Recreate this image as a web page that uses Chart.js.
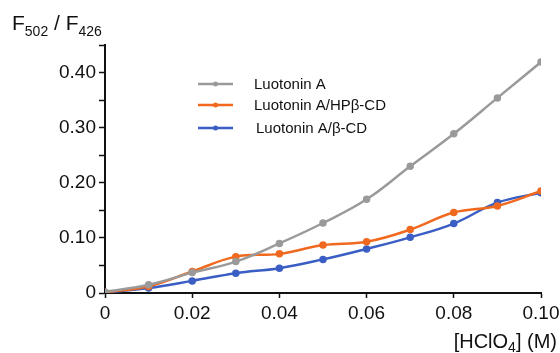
<!DOCTYPE html>
<html>
<head>
<meta charset="utf-8">
<script src="https://cdn.jsdelivr.net/npm/chart.js@4/dist/chart.umd.min.js"></script>
<style>
  html, body { margin: 0; padding: 0; background: #fff; }
  #wrap { width: 560px; height: 353px; position: relative; }
</style>
</head>
<body>
<div id="wrap"><canvas id="c"></canvas></div>
<script>
// HClO4 concentration (M)
const concentrations = [0, 0.01, 0.02, 0.03, 0.04, 0.05, 0.06, 0.07, 0.08, 0.09, 0.10];
const luotoninA = [0.002, 0.015, 0.037, 0.057, 0.090, 0.127, 0.170, 0.230, 0.289, 0.354, 0.419];
const luotoninHP = [0.001, 0.012, 0.039, 0.066, 0.071, 0.087, 0.093, 0.115, 0.146, 0.158, 0.185];
const luotoninB = [0.001, 0.009, 0.022, 0.036, 0.045, 0.061, 0.080, 0.101, 0.126, 0.164, 0.182];
const seriesNames = ["Luotonin A", "Luotonin A/HPβ-CD", "Luotonin A/β-CD"];
const yTickLabels = ["0", "0.10", "0.20", "0.30", "0.40"];
const xTickLabels = ["0", "0.02", "0.04", "0.06", "0.08", "0.10"];

const FONT = "'Liberation Sans', Arial, sans-serif";

function toPoints(vals) {
    return vals.map((v, i) => ({ x: concentrations[i], y: v }));
}

function makeSet(label, vals, color) {
    return {
        label: label,
        data: toPoints(vals),
        borderColor: color,
        backgroundColor: color,
        borderWidth: 2.5,
        pointRadius: 2.5,
        pointHoverRadius: 2.5,
        tension: 0.4,
        fill: false
    };
}

// draws axis titles (with subscripts) and the inset legend
const decorations = {
    id: 'decorations',
    afterDraw(chart) {
        const ctx = chart.ctx;
        ctx.save();
        ctx.fillStyle = '#111';
        ctx.textBaseline = 'alphabetic';

        // y title: F502 / F426
        let x = 12;
        const parts = [["F", 21, 0], ["502", 14, 6], [" / ", 21, 0], ["F", 21, 0], ["426", 14, 6]];
        parts.forEach(([t, size, dy]) => {
            ctx.font = size + "px " + FONT;
            ctx.fillText(t, x, 30 + dy);
            x += ctx.measureText(t).width;
        });

        // x title: [HClO4] (M)
        const xparts = [["[HClO", 20, 0], ["4", 14, 4], ["] (M)", 20, 0]];
        let total = 0;
        xparts.forEach(([t, size]) => { ctx.font = size + "px " + FONT; total += ctx.measureText(t).width; });
        x = 557 - total;
        xparts.forEach(([t, size, dy]) => {
            ctx.font = size + "px " + FONT;
            ctx.fillText(t, x, 348 + dy);
            x += ctx.measureText(t).width;
        });

        // legend
        const rows = [84, 105, 128];
        ctx.font = "15px " + FONT;
        ctx.textBaseline = 'middle';
        chart.data.datasets.forEach((ds, i) => {
            const y = rows[i];
            ctx.strokeStyle = ds.borderColor;
            ctx.lineWidth = 2.5;
            ctx.beginPath();
            ctx.moveTo(198, y);
            ctx.lineTo(233, y);
            ctx.stroke();
            ctx.fillStyle = ds.borderColor;
            ctx.beginPath();
            ctx.arc(215.5, y, 2.5, 0, Math.PI * 2);
            ctx.fill();
            ctx.fillStyle = '#111';
            ctx.fillText(ds.label, i === 2 ? 256 : 254, y + 1);
        });
        ctx.restore();
    }
};

new Chart(document.getElementById('c'), {
    type: 'line',
    data: {
        datasets: [
            makeSet(seriesNames[0], luotoninA, '#9a9a9a'),
            makeSet(seriesNames[1], luotoninHP, '#f0691f'),
            makeSet(seriesNames[2], luotoninB, '#3a5ec4')
        ]
    },
    options: {
        responsive: true,
        maintainAspectRatio: false,
        animation: false,
        layout: { padding: { top: 45, right: 19, left: 0, bottom: 0 } },
        plugins: { legend: { display: false }, tooltip: { enabled: false } },
        scales: {
            x: {
                type: 'linear',
                min: 0,
                max: 0.1,
                afterFit: (s) => { s.height = 60; s.paddingRight = 0; s.paddingLeft = 0; },
                border: { color: '#111', width: 2 },
                grid: { drawOnChartArea: false, color: '#111', tickLength: 5, tickWidth: 1.5 },
                ticks: {
                    stepSize: 0.02,
                    padding: 4,
                    color: '#111',
                    font: { family: FONT, size: 19 },
                    callback: (v) => xTickLabels[Math.round(v / 0.02)] ?? ''
                }
            },
            y: {
                min: 0,
                max: 0.45,
                afterFit: (s) => { s.width = 105; s.paddingTop = 0; s.paddingBottom = 0; },
                border: { color: '#111', width: 2 },
                grid: { drawOnChartArea: false, color: '#111', tickLength: 6, tickWidth: 1.5 },
                ticks: {
                    stepSize: 0.05,
                    padding: 3,
                    color: '#111',
                    font: { family: FONT, size: 19 },
                    callback: (v) => {
                        const n = Math.round(v * 20);
                        return n % 2 === 0 ? (yTickLabels[n / 2] ?? '') : '';
                    }
                }
            }
        }
    },
    plugins: [decorations]
});
</script>
</body>
</html>
